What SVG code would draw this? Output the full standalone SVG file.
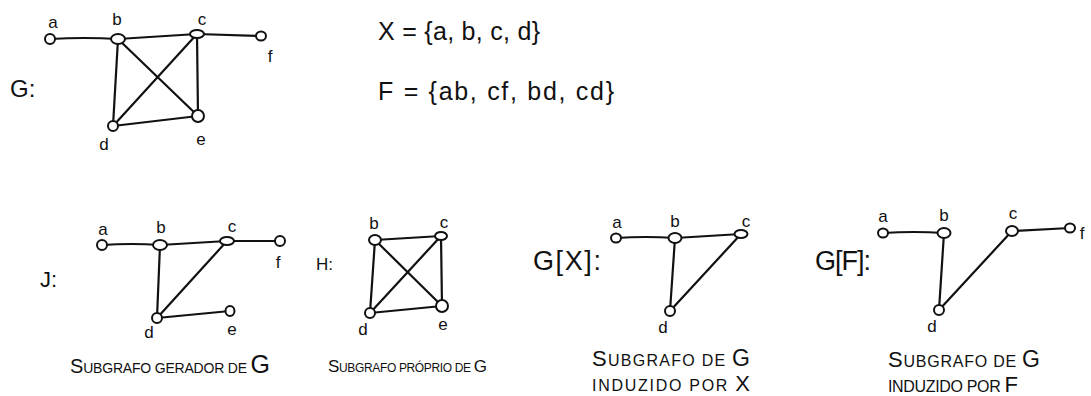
<svg xmlns="http://www.w3.org/2000/svg" width="1091" height="396" viewBox="0 0 1091 396">
<style>
text{font-family:"Liberation Sans","DejaVu Sans",sans-serif;fill:#111}
.lbl{font-size:17px;text-anchor:middle}
.ttl{font-size:24px}
.set{font-size:25px}
.cap{font-size:14px}
.big{font-size:20px}
.e{stroke:#111;stroke-width:2.2;fill:none;stroke-linecap:round}
.n{fill:#fff;stroke:#111;stroke-width:2}
</style>
<rect width="1091" height="396" fill="#fff"/>

<!-- Graph G -->
<g id="graphG">
  <text class="ttl" x="10" y="97">G:</text>
  <g id="connectors-G">
    <path class="e" d="M50,39 Q85,37 118,39"/>
    <line class="e" x1="118" y1="39" x2="197" y2="34"/>
    <line class="e" x1="197" y1="34" x2="261" y2="36"/>
    <line class="e" x1="118" y1="39" x2="113" y2="126"/>
    <line class="e" x1="118" y1="39" x2="198" y2="116"/>
    <line class="e" x1="197" y1="34" x2="113" y2="126"/>
    <line class="e" x1="197" y1="34" x2="198" y2="116"/>
    <line class="e" x1="113" y1="126" x2="198" y2="116"/>
  </g>
  <g id="G-a"><ellipse class="n" cx="50" cy="39" rx="5" ry="5"/><text class="lbl" x="53" y="28">a</text></g>
  <g id="G-b"><ellipse class="n" cx="118" cy="39" rx="7" ry="5"/><text class="lbl" x="117" y="25">b</text></g>
  <g id="G-c"><ellipse class="n" cx="197" cy="34" rx="7" ry="4"/><text class="lbl" x="202" y="25">c</text></g>
  <g id="G-f"><ellipse class="n" cx="261" cy="36" rx="5" ry="4.5"/><text class="lbl" x="270" y="62">f</text></g>
  <g id="G-d"><ellipse class="n" cx="113" cy="126" rx="5" ry="5"/><text class="lbl" x="104" y="150">d</text></g>
  <g id="G-e"><ellipse class="n" cx="198" cy="116" rx="6" ry="6"/><text class="lbl" x="201" y="145">e</text></g>
</g>

<!-- Sets -->
<g id="sets">
  <text class="set" x="378" y="40" textLength="162" lengthAdjust="spacing">X = {a, b, c, d}</text>
  <text class="set" x="378" y="100" textLength="236" lengthAdjust="spacing">F = {ab, cf, bd, cd}</text>
</g>

<!-- Graph J -->
<g id="graphJ">
  <text class="ttl" x="40" y="287" style="font-size:22px">J:</text>
  <g id="connectors-J">
    <path class="e" d="M102,245 Q132,243 160,245"/>
    <line class="e" x1="160" y1="245" x2="227" y2="241"/>
    <line class="e" x1="227" y1="241" x2="280" y2="241"/>
    <line class="e" x1="160" y1="245" x2="157" y2="318"/>
    <line class="e" x1="227" y1="241" x2="157" y2="318"/>
    <line class="e" x1="157" y1="318" x2="230" y2="311"/>
  </g>
  <g id="J-a"><ellipse class="n" cx="102" cy="245" rx="5" ry="5"/><text class="lbl" x="103" y="235">a</text></g>
  <g id="J-b"><ellipse class="n" cx="160" cy="245" rx="7" ry="5"/><text class="lbl" x="161" y="233">b</text></g>
  <g id="J-c"><ellipse class="n" cx="227" cy="241" rx="7" ry="4"/><text class="lbl" x="232" y="232">c</text></g>
  <g id="J-f"><ellipse class="n" cx="280" cy="241" rx="5" ry="5"/><text class="lbl" x="278" y="268">f</text></g>
  <g id="J-d"><ellipse class="n" cx="157" cy="318" rx="5" ry="5"/><text class="lbl" x="149" y="338">d</text></g>
  <g id="J-e"><ellipse class="n" cx="230" cy="311" rx="4.5" ry="5"/><text class="lbl" x="232" y="335">e</text></g>
  <text class="cap" x="70" y="373" textLength="200" lengthAdjust="spacing"><tspan class="big">S</tspan>UBGRAFO GERADOR DE <tspan style="font-size:25px">G</tspan></text>
</g>

<!-- Graph H -->
<g id="graphH">
  <text class="ttl" x="316" y="270" style="font-size:17px">H:</text>
  <g id="connectors-H">
    <line class="e" x1="375" y1="240" x2="441" y2="236"/>
    <line class="e" x1="375" y1="240" x2="370" y2="313"/>
    <line class="e" x1="375" y1="240" x2="442" y2="306"/>
    <line class="e" x1="441" y1="236" x2="370" y2="313"/>
    <line class="e" x1="441" y1="236" x2="442" y2="306"/>
    <line class="e" x1="370" y1="313" x2="442" y2="306"/>
  </g>
  <g id="H-b"><ellipse class="n" cx="375" cy="240" rx="6" ry="5"/><text class="lbl" x="374" y="229">b</text></g>
  <g id="H-c"><ellipse class="n" cx="441" cy="236" rx="6" ry="4"/><text class="lbl" x="444" y="228">c</text></g>
  <g id="H-d"><ellipse class="n" cx="370" cy="313" rx="5" ry="5"/><text class="lbl" x="363" y="335">d</text></g>
  <g id="H-e"><ellipse class="n" cx="442" cy="306" rx="6" ry="6"/><text class="lbl" x="443" y="330">e</text></g>
  <text class="cap" x="328" y="372" textLength="159" lengthAdjust="spacing" style="font-size:12px"><tspan style="font-size:17px">S</tspan>UBGRAFO PRÓPRIO DE <tspan style="font-size:17px">G</tspan></text>
</g>

<!-- Graph G[X] -->
<g id="graphGX">
  <text class="ttl" x="533" y="270" style="font-size:27px" textLength="68" lengthAdjust="spacing">G[X]:</text>
  <g id="connectors-GX">
    <path class="e" d="M616,238 Q646,236 675,238"/>
    <line class="e" x1="675" y1="238" x2="741" y2="234"/>
    <line class="e" x1="675" y1="238" x2="670" y2="311"/>
    <line class="e" x1="741" y1="234" x2="670" y2="311"/>
  </g>
  <g id="GX-a"><ellipse class="n" cx="616" cy="238" rx="5" ry="4.5"/><text class="lbl" x="617" y="228">a</text></g>
  <g id="GX-b"><ellipse class="n" cx="675" cy="238" rx="6.5" ry="5"/><text class="lbl" x="675" y="227">b</text></g>
  <g id="GX-c"><ellipse class="n" cx="741" cy="234" rx="6.5" ry="4"/><text class="lbl" x="746" y="227">c</text></g>
  <g id="GX-d"><ellipse class="n" cx="670" cy="311" rx="5" ry="5"/><text class="lbl" x="663" y="333">d</text></g>
  <text class="cap" x="592" y="366" textLength="158" lengthAdjust="spacing" style="font-size:16px"><tspan style="font-size:22px">S</tspan>UBGRAFO DE <tspan style="font-size:23px">G</tspan></text>
  <text class="cap" x="592" y="391" textLength="158" lengthAdjust="spacing" style="font-size:16px">INDUZIDO POR <tspan style="font-size:22px">X</tspan></text>
</g>

<!-- Graph G[F] -->
<g id="graphGF">
  <text class="ttl" x="815" y="270" style="font-size:27px" textLength="56" lengthAdjust="spacing">G[F]:</text>
  <g id="connectors-GF">
    <path class="e" d="M883,233 Q914,231 944,233"/>
    <line class="e" x1="1012" y1="231" x2="1070" y2="228"/>
    <line class="e" x1="944" y1="233" x2="939" y2="310"/>
    <line class="e" x1="1012" y1="231" x2="939" y2="310"/>
  </g>
  <g id="GF-a"><ellipse class="n" cx="883" cy="233" rx="5" ry="4.5"/><text class="lbl" x="883" y="222">a</text></g>
  <g id="GF-b"><ellipse class="n" cx="944" cy="233" rx="6.5" ry="5"/><text class="lbl" x="944" y="221">b</text></g>
  <g id="GF-c"><ellipse class="n" cx="1012" cy="231" rx="6" ry="5"/><text class="lbl" x="1013" y="219">c</text></g>
  <g id="GF-f"><ellipse class="n" cx="1070" cy="228" rx="5" ry="4.5"/><text class="lbl" x="1082" y="239">f</text></g>
  <g id="GF-d"><ellipse class="n" cx="939" cy="310" rx="5" ry="5"/><text class="lbl" x="932" y="332">d</text></g>
  <text class="cap" x="888" y="367" textLength="152" lengthAdjust="spacing" style="font-size:16px"><tspan style="font-size:22px">S</tspan>UBGRAFO DE <tspan style="font-size:23px">G</tspan></text>
  <text class="cap" x="888" y="392" textLength="130" lengthAdjust="spacing" style="font-size:16px">INDUZIDO POR <tspan style="font-size:22px">F</tspan></text>
</g>
</svg>
